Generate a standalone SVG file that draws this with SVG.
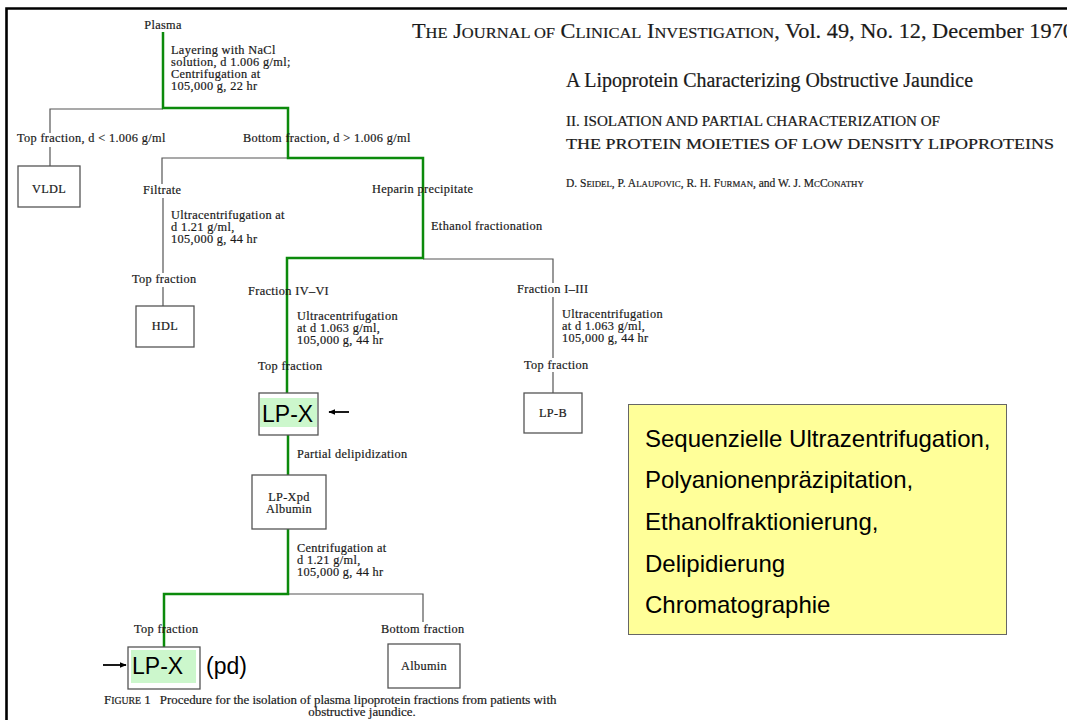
<svg xmlns="http://www.w3.org/2000/svg" width="1067" height="720" viewBox="0 0 1067 720">
<defs>
<style>
.s{font-family:"Liberation Serif","Times New Roman",serif;font-size:12.3px;letter-spacing:0.35px;fill:#1a1a1a;stroke:#1a1a1a;stroke-width:0.2}
.h{font-family:"Liberation Serif","Times New Roman",serif;fill:#1a1a1a;stroke:#1a1a1a;stroke-width:0.2}
.a{font-family:"Liberation Sans",Arial,sans-serif;fill:#000}
.box{fill:#fff;stroke:#555;stroke-width:1.3}
.g{fill:none;stroke:#0b8a0b;stroke-width:2.5}
.k{fill:none;stroke:#555;stroke-width:1.2}
.m{text-anchor:middle}
</style>
<marker id="ah" viewBox="0 0 10 10" refX="9" refY="5" markerWidth="7" markerHeight="7" markerUnits="userSpaceOnUse" orient="auto">
<path d="M0,1 L10,5 L0,9 z" fill="#000"/>
</marker>
</defs>
<rect width="1067" height="720" fill="#fff"/>
<path d="M6.5,720 V8.5 H1067" fill="none" stroke="#000" stroke-width="2.6"/>

<g id="header">
<text class="h" x="412" y="38" font-size="21" textLength="662" lengthAdjust="spacingAndGlyphs">T<tspan font-size="15.5">HE</tspan> J<tspan font-size="15.5">OURNAL OF</tspan> C<tspan font-size="15.5">LINICAL</tspan> I<tspan font-size="15.5">NVESTIGATION</tspan>, Vol. 49, No. 12, December 1970</text>
<text class="h" x="566" y="87" font-size="20" textLength="407" lengthAdjust="spacingAndGlyphs">A Lipoprotein Characterizing Obstructive Jaundice</text>
<text class="h" x="566" y="126" font-size="14" textLength="374" lengthAdjust="spacingAndGlyphs">II. ISOLATION AND PARTIAL CHARACTERIZATION OF</text>
<text class="h" x="566" y="149" font-size="14" textLength="488" lengthAdjust="spacingAndGlyphs">THE PROTEIN MOIETIES OF LOW DENSITY LIPOPROTEINS</text>
<text class="h" x="566" y="187" font-size="11.5">D. S<tspan font-size="8.8">EIDEL</tspan>, P. A<tspan font-size="8.8">LAUPOVIC</tspan>, R. H. F<tspan font-size="8.8">URMAN</tspan>, and W. J. M<tspan font-size="8.8">C</tspan>C<tspan font-size="8.8">ONATHY</tspan></text>
</g>

<g id="connectors">
<path class="k" d="M163,109 H50 V133 M50,147 V166"/>
<path class="k" d="M288,158 H162 V184 M163,198 V273 M163,287 V306"/>
<path class="k" d="M423,259 H553 V283 M553,297 V358 M553,372 V393"/>
<path class="k" d="M288,594 H423 V622"/>
<path class="g" d="M163,32 V108 H288 V158 H423 V258 H287 V394"/>
<path class="g" d="M288,435 V475"/>
<path class="g" d="M288,529 V594 H164 V647"/>
<line x1="349" y1="412" x2="329" y2="412" stroke="#000" stroke-width="1.8" marker-end="url(#ah)"/>
<line x1="103" y1="665" x2="126" y2="665" stroke="#000" stroke-width="1.8" marker-end="url(#ah)"/>
</g>

<g id="labels">
<text class="s" x="171" y="54">Layering with NaCl<tspan x="171" dy="12">solution, d 1.006 g/ml;</tspan><tspan x="171" dy="12">Centrifugation at</tspan><tspan x="171" dy="12">105,000 g, 22 hr</tspan></text>
<text class="s" x="17" y="142">Top fraction, d &lt; 1.006 g/ml</text>
<text class="s" x="243" y="142">Bottom fraction, d &gt; 1.006 g/ml</text>
<text class="s" x="143" y="194">Filtrate</text>
<text class="s" x="372" y="193">Heparin precipitate</text>
<text class="s" x="171" y="219">Ultracentrifugation at<tspan x="171" dy="12">d 1.21 g/ml,</tspan><tspan x="171" dy="12">105,000 g, 44 hr</tspan></text>
<text class="s" x="431" y="230">Ethanol fractionation</text>
<text class="s" x="132" y="283">Top fraction</text>
<text class="s" x="248" y="295">Fraction IV–VI</text>
<text class="s" x="517" y="293">Fraction I–III</text>
<text class="s" x="297" y="320">Ultracentrifugation<tspan x="297" dy="12">at d 1.063 g/ml,</tspan><tspan x="297" dy="12">105,000 g, 44 hr</tspan></text>
<text class="s" x="562" y="318">Ultracentrifugation<tspan x="562" dy="12">at d 1.063 g/ml,</tspan><tspan x="562" dy="12">105,000 g, 44 hr</tspan></text>
<text class="s" x="258" y="370">Top fraction</text>
<text class="s" x="524" y="369">Top fraction</text>
<text class="s" x="297" y="458">Partial delipidization</text>
<text class="s" x="297" y="552">Centrifugation at<tspan x="297" dy="12">d 1.21 g/ml,</tspan><tspan x="297" dy="12">105,000 g, 44 hr</tspan></text>
<text class="s" x="134" y="633">Top fraction</text>
<text class="s" x="381" y="633">Bottom fraction</text>
</g>

<g id="plasma"><text class="s m" x="163" y="29">Plasma</text></g>
<g id="vldl"><rect class="box" x="18" y="166" width="62" height="41"/><text class="s m" x="49" y="193">VLDL</text></g>
<g id="hdl"><rect class="box" x="136" y="306" width="58" height="41"/><text class="s m" x="165" y="330">HDL</text></g>
<g id="lpx-1">
<rect class="box" x="259" y="393" width="59" height="42"/>
<rect x="260" y="398" width="57" height="29" fill="#ccf7cc"/>
<text class="a" x="262" y="422" font-size="23">LP-X</text>
</g>
<g id="lpb"><rect class="box" x="524" y="393" width="58" height="40"/><text class="s m" x="553" y="417">LP-B</text></g>
<g id="lpxpd"><rect class="box" x="252" y="475" width="74" height="54"/><text class="s m" x="289" y="501">LP-Xpd<tspan x="289" dy="12">Albumin</tspan></text></g>
<g id="lpx-2">
<rect class="box" x="128" y="647" width="72" height="42"/>
<rect x="131" y="650" width="65" height="33" fill="#ccf7cc"/>
<text class="a" x="132" y="674" font-size="23">LP-X</text>
<text class="a" x="206" y="674" font-size="23">(pd)</text>
</g>
<g id="albumin"><rect class="box" x="388" y="644" width="72" height="44"/><text class="s m" x="424" y="670">Albumin</text></g>

<g id="legend">
<rect x="628.5" y="404.5" width="378" height="230" fill="#ffff99" stroke="#666" stroke-width="1"/>
<text class="a" x="645" y="447" font-size="24">Sequenzielle Ultrazentrifugation,</text>
<text class="a" x="645" y="488" font-size="24">Polyanionenpräzipitation,</text>
<text class="a" x="645" y="530" font-size="24">Ethanolfraktionierung,</text>
<text class="a" x="645" y="572" font-size="24">Delipidierung</text>
<text class="a" x="645" y="613" font-size="24">Chromatographie</text>
</g>

<g id="caption">
<text class="h" x="104" y="704" font-size="12.9">F<tspan font-size="9.8">IGURE</tspan> 1<tspan dx="9">Procedure for the isolation of plasma lipoprotein fractions from patients with</tspan></text>
<text class="h m" x="362" y="716" font-size="12.9">obstructive jaundice.</text>
</g>
</svg>
